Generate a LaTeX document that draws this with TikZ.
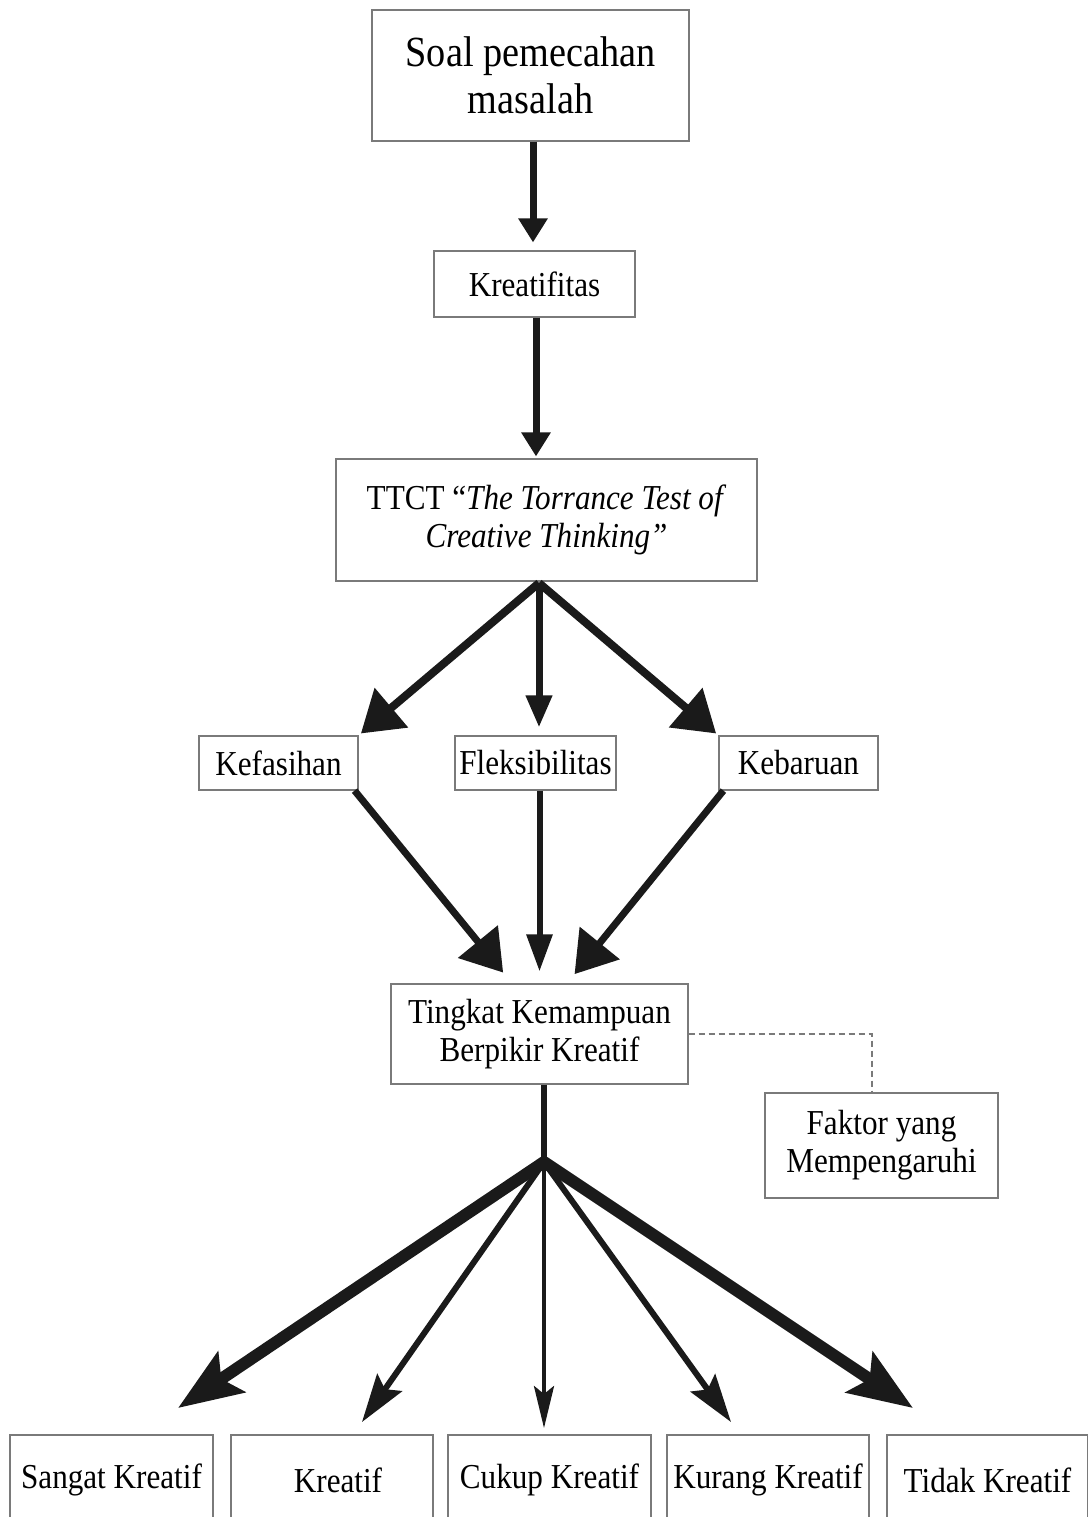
\documentclass[tikz,border=0pt]{standalone}
\usepackage{fontspec}
\setmainfont[FakeStretch=0.89]{Liberation Serif}
\usetikzlibrary{arrows.meta,calc}
\definecolor{boxgray}{HTML}{7A7A7A}
\definecolor{ink}{HTML}{1A1A1A}
\begin{document}
\begin{tikzpicture}[x=0.5pt,y=-0.5pt,
  box/.style={draw=boxgray, line width=0.6pt, inner sep=0pt, align=center, fill=white,
    font=\fontsize{17.5}{19}\selectfont},
  arrS/.style={draw=ink, line width=3.5pt, -{Triangle[length=12pt,width=14pt]}},
  arrM/.style={draw=ink, line width=3.5pt, -{Triangle[length=16pt,width=12.5pt]}},
  arrL/.style={draw=ink, line width=4pt, -{Triangle[length=20pt,width=25pt]}},
  fanOuter/.style={draw=ink, line width=6pt, -{Stealth[length=32pt,width=24pt,inset=6pt]}},
  fanInner/.style={draw=ink, line width=3pt, -{Stealth[length=24pt,width=15pt,inset=4pt]}},
  fanMid/.style={draw=ink, line width=2pt, -{Stealth[length=21pt,width=10pt,inset=4pt]}},
  dashline/.style={draw=boxgray, line width=0.6pt, dash pattern=on 3pt off 2pt}
]
\useasboundingbox (0,0) rectangle (1088,1517);
\fill[white] (0,0) rectangle (1088,1517);

% nodes
\node[box, minimum width=158.5pt, minimum height=65.5pt, font=\fontsize{21.5}{23.5}\selectfont]
  (soal) at (530.5,75.5) {Soal pemecahan\\masalah};
\node[box, minimum width=100.5pt, minimum height=33pt] (kreat) at (534.5,284) {Kreatifitas};
\node[box, minimum width=210.5pt, minimum height=61pt] (ttct) at (546.5,520)
  {TTCT “\textit{The Torrance Test of}\\\textit{Creative Thinking”}};
\node[box, minimum width=79.5pt, minimum height=27pt] (kef) at (278.5,763) {Kefasihan};
\node[box, minimum width=80.5pt, minimum height=27pt] (flek) at (535.5,763) {Fleksibilitas};
\node[box, minimum width=79.5pt, minimum height=27pt] (keb) at (798.5,763) {Kebaruan};
\node[box, minimum width=148.5pt, minimum height=50pt] (ting) at (539.5,1034)
  {Tingkat Kemampuan\\Berpikir Kreatif};
\node[box, minimum width=116.5pt, minimum height=52.5pt] (fak) at (881.5,1145.5)
  {Faktor yang\\Mempengaruhi};
\node[box, minimum width=101.5pt, minimum height=45pt] (b1) at (111.5,1480) {Sangat Kreatif};
\node[box, minimum width=101pt, minimum height=45pt] (b2) at (332,1480) {\hspace*{6pt}Kreatif};
\node[box, minimum width=101.5pt, minimum height=45pt] (b3) at (549.5,1480) {Cukup Kreatif};
\node[box, minimum width=101pt, minimum height=45pt] (b4) at (768,1480) {Kurang Kreatif};
\node[box, minimum width=100.5pt, minimum height=45pt] (b5) at (987.5,1480) {Tidak Kreatif};

% coordinates
\coordinate (tt) at (539,583);
\coordinate (j) at (544,1162);
\coordinate (t1) at (178,1408);
\coordinate (t2) at (362,1422);
\coordinate (t3) at (544,1428);
\coordinate (t4) at (731,1422);
\coordinate (t5) at (913,1408);

% arrows
\draw[arrS, shorten >=4pt] ([xshift=-0.75pt]kreat.north |- soal.south) -- ([xshift=-0.75pt]kreat.north);
\draw[arrS, shorten >=1pt] ([xshift=0.75pt]kreat.south) -- ([xshift=0.75pt]kreat.south |- ttct.north);

\draw[arrL, shorten >=1.5pt] (tt) -- (kef.north east);
\draw[arrM, shorten >=4pt] (tt) -- (tt |- flek.north);
\draw[arrL, shorten >=1.5pt] (tt) -- (keb.north west);

\draw[arrL, line width=3.5pt, shorten >=7pt] ([xshift=-2pt]kef.south east) -- ($(ting.north)+(-27.5,0)$);
\draw[arrM, line width=3pt, -{Triangle[length=18.5pt,width=12.5pt]}, shorten >=6pt] (ting.north |- flek.south) -- (ting.north);
\draw[arrL, line width=3.5pt, shorten >=6pt] ([xshift=2.5pt]keb.south west) -- ($(ting.north)+(27.5,0)$);

\draw[draw=ink, line width=3pt] (j |- ting.south) -- (j);
\draw[fanOuter] (j) -- (t1);
\draw[fanInner] (j) -- (t2);
\draw[fanMid] (j) -- (t3);
\draw[fanInner] (j) -- (t4);
\draw[fanOuter] (j) -- (t5);

\draw[dashline] (ting.east) -| ([xshift=-4.75pt]fak.north);
\end{tikzpicture}
\end{document}
